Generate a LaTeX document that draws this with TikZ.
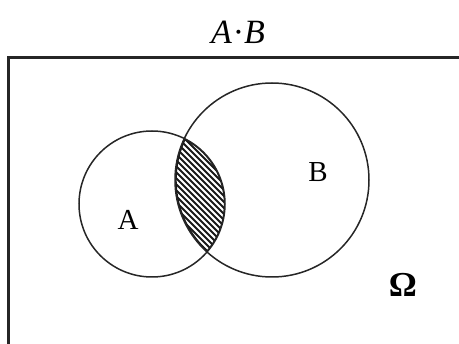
\documentclass[tikz,border=0pt]{standalone}
\usepackage{fontspec}
\setmainfont{Liberation Serif}
\begin{document}
\begin{tikzpicture}[x=1pt,y=-1pt,
  circ/.style={draw=black!85, line width=1.5pt},
  frame/.style={draw=black!85, line width=3pt},
  lbl/.style={font=\fontsize{29}{32}\selectfont, inner sep=0pt}]
\useasboundingbox (0,0) rectangle (459,344);
\clip (0,0) rectangle (459,344);
% frame
\draw[frame] (8,58) rectangle (480,380);
% hatching
\begin{scope}
  \clip (152,204) circle (73);
  \clip (272,180) circle (97);
  \foreach \k in {-210,-204,...,210} {
    \draw[line width=2.1pt, black!90] (200+\k-100,190-100) -- (200+\k+100,190+100);
  }
  % darker lens boundary
  \draw[line width=3.4pt, black!90] (272,180) circle (97);
  \draw[line width=2.4pt, black!90] (152,204) circle (73);
\end{scope}
% circles
\node[circ, circle, minimum size=146pt, inner sep=0pt] (A) at (152,204) {};
\node[circ, circle, minimum size=194pt, inner sep=0pt] (B) at (272,180) {};
% labels
\node[lbl] (la) at (128,220) {A};
\node[lbl] (lb) at (318,172) {B};
\node[lbl, font=\fontsize{35}{38}\selectfont\bfseries] (om) at (403,285) {Ω};
\node[lbl, font=\fontsize{34}{36}\selectfont\itshape] (t) at (238,32) {A{\upshape\kern1pt·}B};
\end{tikzpicture}
\end{document}
